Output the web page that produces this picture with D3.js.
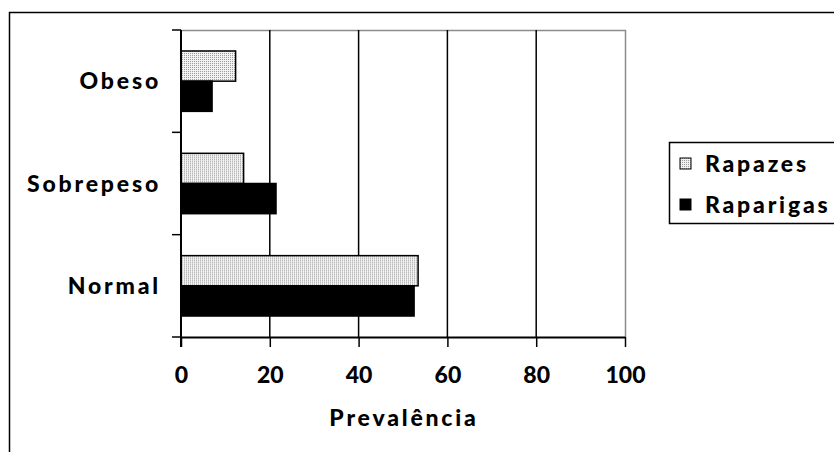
<!DOCTYPE html>
<html lang="pt">
<head>
  <meta charset="utf-8">
  <title>Prevalência</title>
  <script src="https://d3js.org/d3.v7.min.js"></script>
  <style>
    body { margin: 0; background: #fff; }
    svg text { font-family: Lato, "DejaVu Sans", sans-serif; font-weight: 900; fill: #000; }
    svg text.word { letter-spacing: 2.8px; }
  </style>
</head>
<body>
<script>
  // data
  var categories = ["Obeso", "Sobrepeso", "Normal"];
  var seriesNames = ["Rapazes", "Raparigas"];
  var rapazes = [12.3, 14.1, 53.4];
  var raparigas = [7.0, 21.4, 52.5];
  var xTicks = [0, 20, 40, 60, 80, 100];

  var width = 834, height = 452;
  var plot = { left: 181, right: 625, top: 30, bottom: 337 };
  var fs = "23px";

  var svg = d3.select("body").append("svg")
    .attr("width", width)
    .attr("height", height);

  // dotted fill for the Rapazes bars
  var defs = svg.append("defs");
  var pat = defs.append("pattern")
    .attr("id", "dots")
    .attr("patternUnits", "userSpaceOnUse")
    .attr("width", 2).attr("height", 2);
  pat.append("rect").attr("width", 2).attr("height", 2).attr("fill", "#f2f2f2");
  pat.append("rect").attr("width", 1).attr("height", 1).attr("fill", "#9a9a9a");

  // outer chart border (runs off the right and bottom edges)
  svg.append("rect")
    .attr("x", 9.5).attr("y", 12.5)
    .attr("width", 840).attr("height", 460)
    .attr("fill", "none").attr("stroke", "#000").attr("stroke-width", 1.5);

  var x = d3.scaleLinear().domain([0, 100]).range([plot.left, plot.right]);
  var y0 = d3.scaleBand().domain(categories)
    .range([plot.top, plot.bottom])
    .paddingInner(0.41).paddingOuter(0.205);
  var y1 = d3.scaleBand().domain(seriesNames).range([0, y0.bandwidth()]);

  // plot area frame, grey on top and right
  svg.append("path")
    .attr("d", "M" + plot.left + "," + (plot.top + 0.5) + "H" + (plot.right + 0.5) + "V" + plot.bottom)
    .attr("fill", "none").attr("stroke", "#8c8c8c").attr("stroke-width", 1.5);

  // vertical gridlines
  svg.append("g").selectAll("line")
    .data(xTicks.filter(function(d) { return d > 0 && d < 100; }))
    .enter().append("line")
    .attr("x1", function(d) { return x(d); }).attr("x2", function(d) { return x(d); })
    .attr("y1", plot.top).attr("y2", plot.bottom)
    .attr("stroke", "#000").attr("stroke-width", 1.5);

  // bars
  var rows = categories.map(function(c, i) {
    return { cat: c, values: [
      { name: "Rapazes", v: rapazes[i] },
      { name: "Raparigas", v: raparigas[i] }
    ] };
  });

  var groups = svg.append("g").selectAll("g")
    .data(rows).enter().append("g")
    .attr("transform", function(d) { return "translate(0," + y0(d.cat) + ")"; });

  groups.selectAll("rect")
    .data(function(d) { return d.values; })
    .enter().append("rect")
    .attr("x", x(0))
    .attr("y", function(d) { return y1(d.name); })
    .attr("width", function(d) { return x(d.v) - x(0); })
    .attr("height", y1.bandwidth())
    .attr("fill", function(d) { return d.name == "Rapazes" ? "url(#dots)" : "#000"; })
    .attr("stroke", "#000")
    .attr("stroke-width", 1.5);

  // x axis
  var xAxis = svg.append("g")
    .attr("transform", "translate(0," + plot.bottom + ")")
    .call(d3.axisBottom(x).tickValues(xTicks).tickSize(10).tickPadding(20).tickSizeOuter(0));
  xAxis.select(".domain").attr("stroke-width", 2);
  xAxis.selectAll(".tick line").attr("stroke-width", 1.5);
  xAxis.selectAll(".tick text").style("font-size", fs);

  // y axis with ticks between categories
  var yAxis = svg.append("g")
    .attr("transform", "translate(" + plot.left + ",0)");
  yAxis.append("line")
    .attr("y1", plot.top).attr("y2", plot.bottom + 10)
    .attr("stroke", "#000").attr("stroke-width", 2);
  var bounds = [plot.top].concat(categories.slice(1).map(function(c) {
    return y0(c) - y0.step() * y0.paddingInner() / 2;
  }), [plot.bottom]);
  yAxis.selectAll(".yt").data(bounds).enter().append("line")
    .attr("class", "yt")
    .attr("x1", -9).attr("x2", 0)
    .attr("y1", function(d) { return d; }).attr("y2", function(d) { return d; })
    .attr("stroke", "#000").attr("stroke-width", 1.5);
  yAxis.selectAll("text").data(categories).enter().append("text")
    .attr("class", "word")
    .attr("x", -20)
    .attr("y", function(c) { return y0(c) + y0.bandwidth() / 2; })
    .attr("dy", "0.35em")
    .attr("text-anchor", "end")
    .style("font-size", fs)
    .text(function(c) { return c; });

  // axis title
  svg.append("text")
    .attr("class", "word")
    .attr("x", (plot.left + plot.right) / 2 + 1)
    .attr("y", 426)
    .attr("text-anchor", "middle")
    .style("font-size", fs)
    .text("Prevalência");

  // legend
  var legend = svg.append("g").attr("transform", "translate(669,142)");
  legend.append("rect")
    .attr("x", 0.5).attr("y", 0.5).attr("width", 220).attr("height", 81)
    .attr("fill", "#fff").attr("stroke", "#000").attr("stroke-width", 1.5);
  var items = legend.selectAll(".item").data(seriesNames).enter().append("g")
    .attr("class", "item")
    .attr("transform", function(d, i) { return "translate(11," + (22 + i * 41) + ")"; });
  items.append("rect")
    .attr("x", 0).attr("y", -6).attr("width", 11).attr("height", 11)
    .attr("fill", function(d) { return d == "Rapazes" ? "url(#dots)" : "#000"; })
    .attr("stroke", "#000").attr("stroke-width", 1);
  items.append("text")
    .attr("class", "word")
    .attr("x", 25).attr("dy", "0.35em")
    .style("font-size", fs)
    .text(function(d) { return d; });
</script>
</body>
</html>
